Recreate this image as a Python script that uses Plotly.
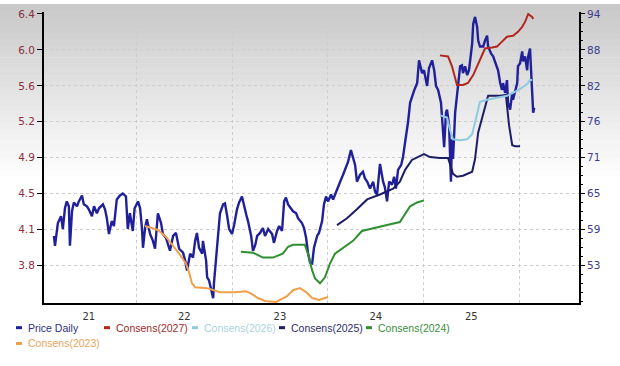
import plotly.graph_objects as go

# ---------------- data ----------------
price_dates = [
    "2021-02-19", "2021-02-23", "2021-03-06", "2021-03-18", "2021-03-25", "2021-04-02", "2021-04-09",
    "2021-04-17", "2021-04-21", "2021-04-29", "2021-05-06", "2021-05-18", "2021-05-25", "2021-06-06",
    "2021-06-13", "2021-06-25", "2021-07-02", "2021-07-14", "2021-07-22", "2021-08-02", "2021-08-10",
    "2021-08-25", "2021-09-02", "2021-09-09", "2021-09-17", "2021-09-28", "2021-10-06", "2021-10-17",
    "2021-10-29", "2021-11-09", "2021-11-21", "2021-11-28", "2021-12-06", "2021-12-17", "2021-12-24",
    "2022-01-06", "2022-01-14", "2022-01-21", "2022-01-25", "2022-02-02", "2022-02-09", "2022-02-21",
    "2022-03-04", "2022-03-12", "2022-03-23", "2022-04-04", "2022-04-11", "2022-04-23", "2022-05-08",
    "2022-05-20", "2022-05-31", "2022-06-12", "2022-06-27", "2022-07-05", "2022-07-12", "2022-07-24",
    "2022-08-04", "2022-08-12", "2022-08-19", "2022-08-27", "2022-09-08", "2022-09-11", "2022-09-23",
    "2022-09-27", "2022-10-04", "2022-10-12", "2022-10-20", "2022-10-23", "2022-10-31", "2022-11-08",
    "2022-11-15", "2022-11-27", "2022-12-04", "2022-12-12", "2022-12-20", "2022-12-31", "2023-01-08",
    "2023-01-19", "2023-01-27", "2023-02-07", "2023-02-11", "2023-02-23", "2023-03-02", "2023-03-14",
    "2023-03-21", "2023-03-29", "2023-04-06", "2023-04-17", "2023-04-28", "2023-05-06", "2023-05-18",
    "2023-06-02", "2023-06-09", "2023-06-21", "2023-06-29", "2023-07-10", "2023-07-18", "2023-07-25",
    "2023-08-02", "2023-08-13", "2023-08-21", "2023-09-02", "2023-09-09", "2023-09-24", "2023-10-02",
    "2023-10-10", "2023-10-17", "2023-10-25", "2023-11-02", "2023-11-09", "2023-11-21", "2023-11-28",
    "2023-12-10", "2023-12-17", "2023-12-25", "2024-01-02", "2024-01-13", "2024-01-21", "2024-02-01",
    "2024-02-09", "2024-02-20", "2024-02-28", "2024-03-10", "2024-03-18", "2024-03-29", "2024-04-06",
    "2024-04-14", "2024-04-21", "2024-05-03", "2024-05-14", "2024-05-22", "2024-05-30", "2024-06-10",
    "2024-06-22", "2024-06-29", "2024-07-07", "2024-07-18", "2024-07-30", "2024-08-06", "2024-08-14",
    "2024-08-22", "2024-09-02", "2024-09-10", "2024-09-17", "2024-09-25", "2024-10-07", "2024-10-14",
    "2024-10-22", "2024-10-29", "2024-11-02", "2024-11-10", "2024-11-17", "2024-11-25", "2024-12-07",
    "2024-12-14", "2024-12-26", "2025-01-02", "2025-01-14", "2025-01-21", "2025-02-02", "2025-02-10",
    "2025-02-17", "2025-02-25", "2025-03-08", "2025-03-16", "2025-03-20", "2025-03-27", "2025-03-31",
    "2025-04-08", "2025-04-15", "2025-04-19", "2025-04-23", "2025-05-01", "2025-05-08", "2025-05-12",
    "2025-05-20", "2025-05-27", "2025-05-31", "2025-06-08", "2025-06-16", "2025-06-23", "2025-07-05",
    "2025-07-09", "2025-07-16", "2025-07-24", "2025-07-28", "2025-08-04", "2025-08-16", "2025-08-23",
    "2025-08-31", "2025-09-04", "2025-09-15", "2025-09-23", "2025-10-04", "2025-10-12", "2025-10-20",
    "2025-10-27", "2025-10-31", "2025-11-08", "2025-11-15", "2025-11-19", "2025-11-27", "2025-12-05",
    "2025-12-08", "2025-12-16", "2025-12-24", "2025-12-27", "2026-01-04", "2026-01-12", "2026-01-16",
    "2026-01-23", "2026-01-31", "2026-02-04", "2026-02-11", "2026-02-15", "2026-02-19", "2026-02-23",
    "2026-02-27",
]
price_values = [
    57.82, 56.22, 59.91, 61.04, 58.95, 62.33, 63.45,
    62.65, 56.22, 61.84, 63.29, 62.65, 63.45, 64.42,
    62.97, 62.65, 62.16, 61.04, 62.65, 61.52, 62.33,
    62.97, 62.16, 60.72, 58.14, 60.24, 59.43, 63.77,
    64.42, 64.74, 64.25, 58.95, 61.52, 58.63, 62.33,
    63.45, 62.33, 59.11, 55.89, 59.11, 60.56, 58.14,
    57.02, 55.73, 61.52, 59.91, 58.14, 57.50, 55.41,
    57.82, 58.31, 55.73, 55.09, 53.80, 52.20, 54.93,
    54.29, 57.02, 58.31, 55.89, 54.93, 57.02, 53.80,
    51.07, 50.59, 48.98, 47.69, 50.11, 53.80, 58.63,
    61.52, 62.97, 63.13, 61.20, 58.95, 58.14, 59.59,
    62.16, 63.29, 64.25, 63.45, 61.36, 60.24, 57.82,
    55.41, 56.22, 57.82, 58.31, 59.11, 57.82, 58.95,
    58.14, 56.70, 58.63, 59.43, 58.63, 63.45, 64.09,
    62.97, 62.33, 61.84, 61.52, 60.72, 59.91, 59.11,
    57.50, 55.09, 53.48, 53.32, 55.89, 57.82, 58.31,
    60.24, 62.97, 64.25, 63.45, 64.58, 63.77, 65.06,
    65.70, 66.99, 67.79, 69.08, 69.88, 71.81, 70.69,
    69.40, 66.67, 67.79, 68.27, 67.15, 66.67, 65.54,
    66.67, 65.06, 64.58, 69.56, 66.67, 65.70, 63.45,
    66.67, 66.18, 67.47, 65.54, 68.60, 69.40, 70.69,
    73.10, 75.03, 76.31, 79.53, 80.65, 81.46, 82.74,
    86.44, 84.35, 84.83, 82.26, 85.16, 86.44, 84.83,
    82.26, 81.62, 79.53, 75.19, 72.29, 77.92, 78.40,
    75.83, 66.67, 73.58, 70.36, 77.92, 80.65, 82.26,
    85.48, 85.64, 84.35, 85.48, 84.03, 84.83, 89.18,
    92.39, 93.52, 91.91, 89.66, 88.69, 88.69, 89.66,
    90.46, 88.69, 87.57, 87.09, 85.96, 84.83, 82.74,
    81.62, 82.74, 81.14, 83.23, 79.53, 78.40, 81.14,
    80.01, 81.62, 82.74, 85.48, 85.96, 87.89, 86.28,
    87.09, 84.83, 87.09, 88.37, 84.83, 82.26, 77.92,
    78.72,
]

cons2027_dates = ["2025-03-04", "2025-04-04", "2025-04-19", "2025-05-01", "2025-05-08", "2025-05-31",
                  "2025-06-19", "2025-07-09", "2025-07-28", "2025-08-12", "2025-08-23", "2025-09-19",
                  "2025-10-08", "2025-10-27", "2025-11-15", "2025-12-08", "2025-12-27", "2026-01-12",
                  "2026-01-23", "2026-02-04", "2026-02-19", "2026-02-23"]
cons2027_values = [5.972, 5.961, 5.859, 5.717, 5.666, 5.666,
                   5.686, 5.768, 5.890, 5.992, 6.043, 6.053,
                   6.063, 6.114, 6.165, 6.175, 6.216, 6.267,
                   6.318, 6.400, 6.369, 6.349]

cons2026_dates = ["2025-03-08", "2025-03-31", "2025-04-11", "2025-04-23", "2025-05-20", "2025-06-16",
                  "2025-07-05", "2025-07-16", "2025-07-28", "2025-08-04", "2025-08-31", "2025-10-08",
                  "2025-11-15", "2025-12-08", "2026-01-04", "2026-01-31", "2026-02-11", "2026-02-19"]
cons2026_values = [5.350, 5.329, 5.207, 5.105, 5.095, 5.105,
                   5.156, 5.278, 5.411, 5.492, 5.513, 5.533,
                   5.554, 5.584, 5.625, 5.676, 5.717, 5.717]

cons2025_dates = ["2024-02-05", "2024-03-14", "2024-04-21", "2024-05-30", "2024-07-18", "2024-09-06",
                  "2024-10-02", "2024-10-22", "2024-11-17", "2024-12-10", "2025-01-02", "2025-01-25",
                  "2025-03-04", "2025-04-04", "2025-04-11", "2025-04-23", "2025-05-08", "2025-05-31",
                  "2025-07-05", "2025-07-16", "2025-07-28", "2025-08-16", "2025-09-04", "2025-10-20",
                  "2025-11-11", "2025-11-15", "2025-11-23", "2025-12-05", "2025-12-16", "2026-01-04"]
cons2025_values = [4.218, 4.289, 4.381, 4.483, 4.534, 4.595,
                   4.667, 4.789, 4.891, 4.921, 4.952, 4.921,
                   4.911, 4.911, 4.840, 4.748, 4.718, 4.728,
                   4.769, 4.901, 5.176, 5.380, 5.554, 5.554,
                   5.564, 5.452, 5.248, 5.044, 5.034, 5.034]

cons2024_dates = ["2023-02-03", "2023-03-21", "2023-04-28", "2023-06-05", "2023-07-13", "2023-08-02",
                  "2023-08-21", "2023-10-05", "2023-10-17", "2023-11-02", "2023-11-13", "2023-12-02",
                  "2023-12-21", "2024-01-09", "2024-01-28", "2024-02-28", "2024-04-06", "2024-05-10",
                  "2024-06-22", "2024-08-14", "2024-10-02", "2024-11-10", "2024-12-07", "2025-01-02"]
cons2024_values = [3.943, 3.933, 3.882, 3.882, 3.922, 3.994,
                   4.014, 4.014, 3.922, 3.749, 3.667, 3.616,
                   3.678, 3.820, 3.922, 3.984, 4.055, 4.157,
                   4.187, 4.218, 4.249, 4.412, 4.452, 4.473]

cons2023_dates = ["2022-02-02", "2022-02-28", "2022-03-23", "2022-04-23", "2022-05-20", "2022-06-15",
                  "2022-07-08", "2022-07-20", "2022-07-31", "2022-08-12", "2022-09-27", "2022-10-20",
                  "2022-11-15", "2023-01-12", "2023-02-23", "2023-03-17", "2023-04-09", "2023-05-06",
                  "2023-06-17", "2023-07-29", "2023-08-21", "2023-09-16", "2023-10-10", "2023-11-02",
                  "2023-11-28", "2024-01-02"]
cons2023_values = [4.208, 4.187, 4.167, 4.096, 4.004, 3.912,
                   3.820, 3.729, 3.616, 3.576, 3.566, 3.545,
                   3.525, 3.525, 3.535, 3.504, 3.464, 3.433,
                   3.423, 3.484, 3.545, 3.566, 3.525, 3.464,
                   3.443, 3.474]

x_tick_dates = ["2021-07-02", "2022-07-02", "2023-07-02", "2024-07-02", "2025-07-02"]
x_tick_labels = ["21", "22", "23", "24", "25"]
year_starts = ["2022-01-01", "2023-01-01", "2024-01-01", "2025-01-01", "2026-01-01"]

eps_tick_labels = ["3.8", "4.1", "4.5", "4.9", "5.2", "5.6", "6.0", "6.4"]
price_tick_labels = ["53", "59", "65", "71", "76", "82", "88", "94"]

# ---------------- styling ----------------
PRICE_C = "#20209a"
series = [
    ("Consens(2023)", cons2023_dates, cons2023_values, "#f0a04b"),
    ("Consens(2024)", cons2024_dates, cons2024_values, "#2f8f2f"),
    ("Consens(2025)", cons2025_dates, cons2025_values, "#1d1d66"),
    ("Consens(2026)", cons2026_dates, cons2026_values, "#8fcbe0"),
    ("Consens(2027)", cons2027_dates, cons2027_values, "#b3261e"),
]

eps_lo, eps_hi = 3.8, 6.4
eps_step = (eps_hi - eps_lo) / 7
eps_ticks = [eps_lo + i * eps_step for i in range(8)]
pr_lo, pr_hi = 53.0, 94.0
pr_step = (pr_hi - pr_lo) / 7
pr_ticks = [pr_lo + i * pr_step for i in range(8)]
pr_minor = [pr_lo + k * pr_step / 4 for k in range(-4, 30)]

# axis ranges chosen so that both axes share the same tick rows
below, above = 1.043, 0.055   # in units of one tick step
eps_range = [eps_lo - below * eps_step, eps_hi + above * eps_step]
pr_range = [pr_lo - below * pr_step, pr_hi + above * pr_step]

fig = go.Figure()
fig.add_trace(go.Scatter(x=price_dates, y=price_values, mode="lines", name="Price Daily",
                         line=dict(color=PRICE_C, width=2.4), yaxis="y", showlegend=False))
for name, d, v, c in series:
    fig.add_trace(go.Scatter(x=d, y=v, mode="lines", name=name,
                             line=dict(color=c, width=2), yaxis="y2", showlegend=False))

# background gradient (grey at top fading to white)
W, H, ML, MR, MT, MB = 620, 366, 44, 41, 8, 63
PW, PH = W - ML - MR, H - MT - MB
shapes = []
band = 6
for i in range(0, 180, band):
    mid = i + band / 2
    g = int(round(200 + 55 * min(mid / 178.0, 1.0)))
    col = f"rgb({g},{g},{g})"
    y0 = (H - MB - i) / PH
    y1 = (H - MB - (i + band + 0.5)) / PH
    shapes.append(dict(type="rect", xref="paper", yref="paper", x0=-0.2, x1=1.2, y0=y1, y1=y0,
                       fillcolor=col, line=dict(width=0), layer="below"))

# legend (drawn as small dashes + text, like the reference)
legend_items = [
    ("Price Daily", PRICE_C, "#2e2e80", 16, 328),
    ("Consens(2027)", "#b3261e", "#9c2a2a", 104, 328),
    ("Consens(2026)", "#8fcbe0", "#a9d3e3", 192, 328),
    ("Consens(2025)", "#1d1d66", "#2d2d6b", 279, 328),
    ("Consens(2024)", "#2f8f2f", "#3a8f3a", 366, 328),
    ("Consens(2023)", "#f0a04b", "#e9a55a", 16, 344),
]
annotations = []
for name, lc, tc, px, py in legend_items:
    yp = (H - MB - py) / PH
    shapes.append(dict(type="line", xref="paper", yref="paper",
                       x0=(px - ML) / PW, x1=(px + 6 - ML) / PW, y0=yp, y1=yp,
                       line=dict(color=lc, width=3)))
    annotations.append(dict(text=name, xref="paper", yref="paper", x=(px + 10 - ML) / PW, y=yp,
                            xanchor="left", yanchor="middle", showarrow=False,
                            font=dict(family="Liberation Sans, Arial, sans-serif",
                                      size=10.5, color=tc)))

GRID = "#cdcdcd"
fig.update_layout(
    width=W, height=H, margin=dict(l=ML, r=MR, t=MT, b=MB),
    paper_bgcolor="white", plot_bgcolor="rgba(0,0,0,0)",
    showlegend=False, shapes=shapes, annotations=annotations,
    xaxis=dict(type="date", range=["2021-01-12", "2026-08-17"],
               tickmode="array", tickvals=x_tick_dates, ticktext=x_tick_labels,
               showgrid=False, zeroline=False, showline=True, linecolor="black", linewidth=2,
               ticks="outside", ticklen=3, tickcolor="rgba(0,0,0,0)",
               tickfont=dict(family="DejaVu Sans", size=10, color="#333333"),
               minor=dict(tickmode="array", tickvals=year_starts, showgrid=True,
                          gridcolor=GRID, griddash="3px,3px", gridwidth=1, ticks="")),
    yaxis=dict(side="right", range=pr_range, tickmode="array", tickvals=pr_ticks,
               ticktext=price_tick_labels, showgrid=False, zeroline=False,
               showline=True, linecolor="black", linewidth=2,
               ticks="outside", ticklen=4, tickcolor="black",
               tickfont=dict(family="DejaVu Sans", size=10.5, color="#3c3c8c"),
               minor=dict(tickmode="array", tickvals=pr_minor, ticks="outside", ticklen=2,
                          tickcolor="black", showgrid=False)),
    yaxis2=dict(overlaying="y", side="left", range=eps_range, tickmode="array",
                tickvals=eps_ticks, ticktext=eps_tick_labels,
                showgrid=True, gridcolor=GRID, griddash="3px,3px", gridwidth=1, zeroline=False,
                showline=True, linecolor="black", linewidth=2,
                ticks="outside", ticklen=5, tickcolor="black",
                tickfont=dict(family="DejaVu Sans", size=10.5, color="#8c2f3c")),
)

fig.write_html("out.html", config={"displayModeBar": False},
               post_script="document.body.style.margin='0';")
